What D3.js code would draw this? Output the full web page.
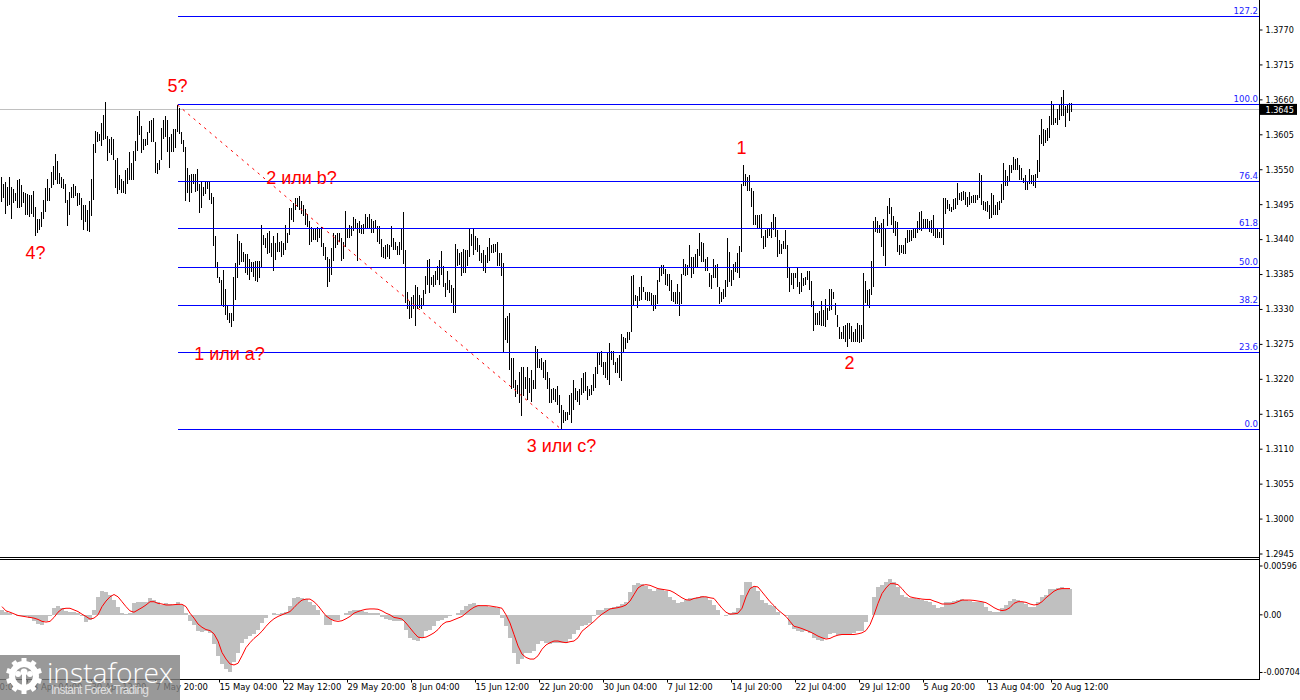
<!DOCTYPE html>
<html>
<head>
<meta charset="utf-8">
<script src="https://cdn.jsdelivr.net/npm/d3@7"></script>
<style>
  html, body { margin: 0; padding: 0; background: #fff; overflow: hidden; }
  text { font-family: "DejaVu Sans Condensed", "DejaVu Sans", sans-serif; }
</style>
</head>
<body>
<div class="container"></div>
<script>
// bar highs and lows, price * 10000, one value per H4 bar
const barHigh = [
13538,13528,13530,13523,13538,13523,13519,13514,13534,13536,13526,13515,13513,13512,13510,13510,13517,13492,13472,13473,13484,13503,13521,13536,13522,13547,13556,13575,13564,13545,13539,13536,13528,13503,13515,13523,13527,13524,13514,13514,13506,13494,13494,13486,13500,13536,13591,13611,13610,13607,13623,13636,13656,13603,13599,13602,13598,13566,13568,13542,13535,13533,13550,13552,13578,13560,13579,13596,13634,13643,13619,13598,13599,13610,13626,13629,13631,13594,13560,13566,13615,13628,13634,13628,13602,13607,13614,13614,13652,13647,13610,13597,13586,13552,13542,13543,13543,13544,13551,13528,13530,13523,13531,13531,13531,13513,13507,13446,13404,13381,13376,13392,13362,13337,13324,13324,13381,13403,13449,13438,13434,13421,13417,13418,13410,13405,13404,13407,13407,13407,13463,13447,13442,13450,13454,13434,13446,13434,13450,13437,13438,13435,13463,13450,13489,13489,13497,13505,13506,13509,13501,13494,13488,13481,13470,13460,13458,13458,13460,13458,13460,13434,13429,13413,13410,
13427,13450,13448,13450,13451,13442,13437,13485,13456,13463,13461,13476,13472,13466,13470,13463,13465,13480,13476,13481,13472,13469,13471,13461,13461,13441,13429,13432,13433,13432,13462,13442,13437,13430,13437,13458,13484,13423,13357,13343,13349,13352,13369,13366,13352,13348,13361,13382,13408,13409,13381,13385,13390,13398,13408,13422,13398,13372,13390,13377,13369,13364,13433,13425,13419,13420,13425,13424,13423,13458,13449,13458,13445,13442,13432,13419,13424,13416,13428,13442,13432,13433,13433,13437,13419,13419,13403,13317,13319,13324,13253,13253,13219,13211,13232,13240,13239,13224,13239,13222,13234,13219,13273,13267,13252,13253,13248,13250,13232,13222,13204,13206,13204,13210,13196,13180,13172,13168,13169,13196,13198,13219,13206,13201,13204,13222,13230,13232,13209,13205,13211,13229,13240,13261,13262,13264,13248,13248,13262,13277,13264,13264,13247,13253,13259,13292,13286,13285,13294,13295,13383,13385,13353,13351,13366,13382,13365,13358,13358,13357,13356,13352,13352,13377,13397,
13400,13400,13393,13386,13386,13376,13358,13358,13370,13358,13386,13409,13402,13400,13431,13413,13413,13418,13425,13450,13437,13434,13410,13412,13387,13384,13410,13400,13401,13366,13358,13362,13376,13442,13421,13392,13402,13404,13419,13430,13527,13557,13543,13538,13542,13521,13517,13479,13479,13479,13480,13446,13455,13458,13458,13467,13480,13476,13455,13439,13433,13438,13455,13431,13397,13388,13387,13388,13396,13374,13388,13379,13381,13391,13391,13375,13344,13324,13325,13328,13344,13329,13347,13332,13362,13362,13358,13340,13321,13303,13295,13304,13305,13308,13309,13304,13295,13300,13308,13305,13305,13387,13375,13360,13362,13407,13470,13475,13470,13463,13466,13473,13459,13493,13505,13491,13477,13470,13468,13431,13431,13431,13442,13455,13455,13455,13456,13458,13470,13484,13485,13472,13472,13472,13470,13471,13479,13458,13458,13452,13458,13506,13506,13502,13496,
13491,13504,13506,13529,13514,13515,13516,13515,13507,13515,13509,13511,13511,13511,13545,13541,13500,13499,13500,13494,13514,13511,13495,13499,13500,13527,13561,13550,13540,13557,13557,13570,13567,13569,13558,13553,13537,13542,13532,13551,13542,13542,13544,13566,13604,13630,13614,13613,13616,13634,13658,13653,13632,13646,13653,13665,13675,13650,13654,13655,13655
];
const barLow = [
13499,13505,13480,13493,13494,13472,13497,13501,13489,13490,13492,13497,13478,13479,13476,13480,13476,13446,13451,13455,13460,13473,13484,13500,13501,13522,13526,13534,13527,13528,13521,13519,13497,13462,13479,13506,13506,13509,13493,13494,13471,13455,13468,13453,13452,13477,13502,13576,13594,13596,13587,13597,13599,13564,13576,13573,13565,13522,13512,13518,13514,13513,13512,13527,13534,13534,13534,13563,13580,13605,13577,13581,13587,13589,13608,13594,13594,13545,13544,13550,13565,13599,13602,13578,13553,13578,13578,13584,13610,13607,13591,13578,13501,13513,13499,13513,13528,13515,13517,13482,13489,13509,13512,13519,13502,13496,13430,13395,13379,13371,13335,13334,13321,13313,13309,13302,13312,13345,13379,13400,13405,13405,13387,13384,13376,13389,13381,13375,13374,13380,13397,13431,13426,13418,13419,13413,13391,13408,13421,13421,13413,13416,13423,13434,13447,13471,13468,13486,13492,13486,13480,13477,13463,13460,13431,13437,13439,13439,13437,13442,13429,13414,13408,13366,13374,
13385,13406,13427,13432,13436,13407,13409,13428,13442,13442,13446,13453,13456,13406,13450,13449,13449,13458,13457,13458,13450,13450,13456,13436,13433,13412,13411,13409,13412,13409,13428,13424,13424,13416,13415,13424,13401,13340,13330,13315,13316,13330,13304,13330,13332,13330,13335,13355,13369,13356,13369,13365,13369,13377,13369,13385,13366,13349,13361,13356,13340,13324,13324,13398,13400,13382,13387,13387,13398,13412,13430,13416,13424,13421,13406,13403,13390,13388,13403,13406,13419,13419,13421,13398,13398,13383,13261,13282,13277,13235,13204,13206,13192,13197,13183,13162,13193,13204,13188,13199,13185,13204,13204,13238,13238,13235,13222,13219,13204,13183,13183,13188,13185,13180,13167,13141,13151,13154,13156,13164,13151,13172,13188,13185,13180,13196,13198,13201,13188,13193,13196,13201,13206,13229,13243,13240,13227,13222,13219,13211,13251,13243,13230,13230,13222,13218,13261,13267,13277,13282,13295,13337,13344,13332,13344,13345,13358,13345,13344,13343,13337,13327,13330,13339,13374,
13383,13386,13368,13367,13359,13344,13341,13338,13338,13320,13338,13384,13383,13384,13396,13379,13386,13396,13396,13414,13405,13405,13391,13391,13366,13363,13380,13379,13365,13338,13341,13347,13350,13365,13374,13367,13376,13389,13388,13379,13421,13524,13524,13517,13517,13492,13463,13463,13458,13456,13443,13425,13428,13443,13446,13443,13455,13444,13412,13418,13418,13425,13425,13380,13358,13368,13363,13379,13366,13354,13358,13367,13368,13376,13360,13334,13296,13305,13305,13305,13304,13304,13303,13314,13328,13329,13347,13321,13303,13283,13284,13283,13279,13271,13284,13279,13279,13279,13278,13277,13279,13284,13340,13335,13332,13353,13366,13452,13451,13450,13429,13414,13398,13461,13481,13463,13450,13446,13421,13416,13419,13418,13417,13435,13437,13438,13442,13443,13450,13455,13454,13456,13456,13458,13452,13450,13446,13443,13442,13442,13442,13431,13481,13488,13485,
13483,13487,13488,13495,13502,13500,13502,13495,13491,13494,13497,13498,13498,13503,13506,13494,13487,13485,13483,13473,13474,13479,13478,13479,13486,13497,13503,13524,13525,13532,13545,13549,13550,13550,13534,13534,13529,13518,13518,13527,13527,13525,13521,13537,13546,13590,13588,13592,13595,13600,13621,13620,13624,13621,13629,13634,13635,13617,13640,13626,13641
];

// MACD main and signal, * 100000, one value per two bars
const macdHist = [
60,32,20,0,-12,-16,-20,-40,-72,-112,-128,-72,-20,80,112,88,48,40,32,20,-20,-88,-60,60,220,288,280,240,180,100,20,8,20,140,152,152,160,200,180,152,120,140,132,120,152,120,20,-80,-120,-200,-208,-200,-220,-360,-500,-600,-660,-700,-580,-460,-340,-300,-260,-240,-180,-100,-40,0,20,12,20,40,112,200,220,200,192,160,120,60,0,-120,-120,-60,-60,0,20,48,60,60,48,32,20,20,20,-32,-48,-60,-80,-72,-72,-180,-288,-312,-320,-280,-192,
-180,-140,-80,-60,-40,-20,0,20,60,112,128,140,120,112,108,100,92,80,-40,-140,-280,-460,-600,-540,-460,-460,-440,-360,-320,-340,-352,-340,-340,-340,-340,-300,-240,-180,-140,-120,-100,-20,60,60,80,88,100,112,132,152,280,360,388,380,352,320,288,320,320,288,220,180,140,152,180,200,208,220,232,220,180,120,60,0,-12,20,40,80,240,400,400,340,288,180,140,120,112,40,0,-20,-120,-168,-200,-208,-192,-220,-280,-312,-320,-280,-232,-220,-248,-248,-240,-240,-220,-200,
-200,-88,0,220,340,360,400,432,400,340,240,220,208,200,192,180,168,152,120,88,100,152,160,168,180,192,180,168,160,152,152,100,48,32,40,80,120,168,188,180,152,128,100,100,160,220,240,312,320,332,340,320,312
];
const macdSignal = [
100,48,32,12,-8,-16,-24,-32,-40,-56,-80,-88,-80,-32,32,72,80,80,60,40,8,-20,-52,-40,0,100,168,220,248,220,160,100,48,32,60,88,120,160,160,140,132,120,120,124,128,128,100,20,-40,-112,-152,-180,-192,-232,-320,-460,-540,-600,-612,-592,-500,-400,-340,-288,-248,-200,-140,-88,-48,-20,0,20,40,88,140,180,192,192,160,112,48,-12,-48,-72,-80,-72,-48,-20,20,40,56,68,72,72,68,48,20,0,-32,-40,-52,-100,-160,-220,-272,-280,-272,
-248,-220,-180,-120,-88,-80,-60,-40,-20,20,60,92,112,112,112,108,100,92,80,0,-100,-240,-380,-480,-520,-540,-540,-500,-420,-368,-340,-320,-320,-332,-340,-328,-320,-280,-200,-160,-120,-80,-32,8,40,72,80,88,100,120,168,248,328,360,368,360,340,320,312,304,296,272,240,208,184,180,200,208,220,220,208,200,140,80,32,8,12,20,80,220,320,348,340,280,220,160,112,60,20,-20,-80,-140,-152,-168,-188,-208,-232,-260,-280,-296,-288,-264,-248,-240,-240,-240,-240,-232,
-220,-192,-120,0,140,260,328,380,380,368,320,260,220,208,200,192,188,188,168,152,132,132,132,140,160,180,180,180,176,168,160,148,120,88,64,52,60,88,140,160,160,152,132,120,128,160,208,248,288,312,320,320,320
];

const priceTicks = [13770,13715,13660,13605,13550,13495,13440,13385,13330,13275,13220,13165,13110,13055,13000,12945];
const macdTicks = [596,0,-704];
const timeBars = [-19,13,45,77,109,141,173,205,237,269,301,333,365,397,429,461,493,525];
const timeLabels = ['15 Apr 20:00','23 Apr 04:00','30 Apr 12:00','7 May 20:00','15 May 04:00','22 May 12:00','29 May 20:00','8 Jun 04:00','15 Jun 12:00','22 Jun 20:00','30 Jun 04:00','7 Jul 12:00','14 Jul 20:00','22 Jul 04:00','29 Jul 12:00','5 Aug 20:00','13 Aug 04:00','20 Aug 12:00'];

const fibNames = ['127.2','100.0','76.4','61.8','50.0','38.2','23.6','0.0'];
const fibPrices = [13791,13652,13531,13457,13396,13336,13262,13141];
const fibStartBar = 88;
const fibEndBar = 280;
const lastPrice = 13645;

const waveNames = ['5?','4?','2 или b?','1 или а?','3 или с?','1','2'];
const waveBars = [88,17,150,114,280,370,424];
const wavePrices = [13673,13409,13527,13251,13105,13574,13237];

const width = 1300;
const height = 700;
const chartRight = 1259;
const panelTop = 559.5;
const panelBottom = 679.5;

const svg = d3
  .select('.container')
  .append('svg')
  .attr('width', width)
  .attr('height', height)
  .style('display', 'block');

const xBar = d3.scaleLinear().domain([0, 535]).range([1.5, 1071.5]);
const yPrice = d3.scaleLinear().domain([12945, 13770]).range([554, 30]);
const yMacd = d3.scaleLinear().domain([-704, 596]).range([672.5, 566]);
const xHist = d3
  .scaleBand()
  .domain(d3.range(macdHist.length))
  .range([0, macdHist.length * 4]);

// current price line goes under the bars
svg
  .append('line')
  .attr('x1', 0)
  .attr('x2', chartRight)
  .attr('y1', Math.floor(yPrice(lastPrice)) + 0.5)
  .attr('y2', Math.floor(yPrice(lastPrice)) + 0.5)
  .attr('stroke', '#c0c0c0');

svg
  .append('g')
  .attr('id', 'bars')
  .selectAll('line')
  .data(barHigh)
  .enter()
  .append('line')
  .attr('x1', (d, i) => xBar(i))
  .attr('x2', (d, i) => xBar(i))
  .attr('y1', (d) => yPrice(d))
  .attr('y2', (d, i) => yPrice(barLow[i]))
  .attr('stroke', '#000')
  .attr('stroke-width', 1)
  .attr('shape-rendering', 'crispEdges');

// fibo grid
svg
  .append('g')
  .attr('id', 'fibo')
  .selectAll('line')
  .data(fibPrices)
  .enter()
  .append('line')
  .attr('x1', xBar(fibStartBar))
  .attr('x2', chartRight)
  .attr('y1', (d) => Math.floor(yPrice(d)) + 0.5)
  .attr('y2', (d) => Math.floor(yPrice(d)) + 0.5)
  .attr('stroke', '#0000ff')
  .attr('stroke-width', 1)
  .attr('shape-rendering', 'crispEdges');

svg
  .append('line')
  .attr('x1', xBar(fibStartBar))
  .attr('y1', yPrice(fibPrices[1]))
  .attr('x2', xBar(fibEndBar))
  .attr('y2', yPrice(fibPrices[7]))
  .attr('stroke', '#ff0000')
  .attr('stroke-dasharray', '2.5,4.5');

svg
  .append('g')
  .selectAll('text')
  .data(fibNames)
  .enter()
  .append('text')
  .attr('x', chartRight - 1)
  .attr('y', (d, i) => yPrice(fibPrices[i]) - 2.5)
  .attr('text-anchor', 'end')
  .attr('fill', '#2020ff')
  .style('font-size', '9.5px')
  .text((d) => d);

svg
  .append('g')
  .attr('id', 'waves')
  .selectAll('text')
  .data(waveNames)
  .enter()
  .append('text')
  .attr('x', (d, i) => xBar(waveBars[i]))
  .attr('y', (d, i) => yPrice(wavePrices[i]))
  .attr('text-anchor', 'middle')
  .attr('fill', '#ff0000')
  .style('font-family', '"Liberation Sans", sans-serif')
  .style('font-size', '18px')
  .text((d) => d);

// macd panel
svg
  .append('g')
  .attr('id', 'hist')
  .selectAll('rect')
  .data(macdHist)
  .enter()
  .append('rect')
  .attr('x', (d, i) => xHist(i))
  .attr('y', (d) => yMacd(Math.max(d, 0)))
  .attr('width', xHist.bandwidth())
  .attr('height', (d) => Math.abs(yMacd(d) - yMacd(0)))
  .attr('fill', '#c0c0c0')
  .attr('shape-rendering', 'crispEdges');

const signalLine = d3
  .line()
  .x((d, i) => xHist(i) + xHist.bandwidth() / 2)
  .y((d) => yMacd(d));

svg
  .append('path')
  .datum(macdSignal)
  .attr('d', signalLine)
  .attr('fill', 'none')
  .attr('stroke', '#ff0000')
  .attr('stroke-width', 1);

// axes
const yAxis = d3
  .axisRight(yPrice)
  .tickValues(priceTicks)
  .tickFormat((d) => (d / 10000).toFixed(4))
  .tickSize(3)
  .offset(0);
const gy = svg
  .append('g')
  .attr('transform', `translate(${chartRight + 0.5},0)`)
  .call(yAxis);
gy.select('.domain').remove();
gy.selectAll('text').attr('x', 6).style('font-size', '9px').style('font-family', '"DejaVu Sans Condensed", "DejaVu Sans", sans-serif');

const yAxisMacd = d3
  .axisRight(yMacd)
  .tickValues(macdTicks)
  .tickFormat((d) => (d === 0 ? '0.00' : (d / 100000).toFixed(5)))
  .tickSize(3)
  .offset(0);
const gm = svg
  .append('g')
  .attr('transform', `translate(${chartRight + 0.5},0)`)
  .call(yAxisMacd);
gm.select('.domain').remove();
gm.selectAll('text').attr('x', 4).style('font-size', '9px').style('font-family', '"DejaVu Sans Condensed", "DejaVu Sans", sans-serif');

const xAxis = d3
  .axisBottom(xBar)
  .tickValues(timeBars)
  .tickFormat((d, i) => timeLabels[i])
  .tickSize(3)
  .offset(0);
const gx = svg
  .append('g')
  .attr('transform', `translate(0,${panelBottom})`)
  .call(xAxis);
gx.select('.domain').remove();
gx.selectAll('text')
  .attr('text-anchor', 'start')
  .attr('y', 4)
  .style('font-size', '9.4px')
  .style('font-family', '"DejaVu Sans Condensed", "DejaVu Sans", sans-serif');

// frame
const frame = svg.append('g').attr('stroke', '#000').attr('shape-rendering', 'crispEdges');
frame.append('line').attr('x1', chartRight + 0.5).attr('x2', chartRight + 0.5).attr('y1', 0).attr('y2', panelBottom);
frame.append('line').attr('x1', 0).attr('x2', chartRight).attr('y1', 557.5).attr('y2', 557.5);
frame.append('line').attr('x1', 0).attr('x2', chartRight).attr('y1', panelTop).attr('y2', panelTop);
frame.append('line').attr('x1', 0).attr('x2', chartRight).attr('y1', panelBottom).attr('y2', panelBottom);

// last price box
const lastBox = svg.append('g').attr('transform', `translate(${chartRight + 1},${yPrice(lastPrice)})`);
lastBox.append('rect').attr('x', 0).attr('y', -5.5).attr('width', 37).attr('height', 11).attr('fill', '#000');
lastBox
  .append('text')
  .attr('x', 5.5)
  .attr('y', 3.2)
  .attr('fill', '#fff')
  .style('font-size', '9px')
  .text((lastPrice / 10000).toFixed(4));

// logo
const logo = svg.append('g');
logo.append('rect').attr('x', 0).attr('y', 655).attr('width', 180).attr('height', 45).attr('fill', '#808080').attr('opacity', 0.8);
const gear = logo.append('g').attr('transform', 'translate(24,676)').attr('fill', '#fff');
gear.append('circle').attr('r', 12).attr('fill', 'none').attr('stroke', '#fff').attr('stroke-width', 6);
gear
  .selectAll('rect')
  .data(d3.range(10))
  .enter()
  .append('rect')
  .attr('x', -2.5)
  .attr('y', -18)
  .attr('width', 5)
  .attr('height', 6)
  .attr('transform', (d) => `rotate(${d * 36})`);
gear.append('circle').attr('cy', -4).attr('r', 3.5);
gear.append('circle').attr('cx', -6).attr('cy', -2).attr('r', 3);
gear.append('circle').attr('cx', 6).attr('cy', -2).attr('r', 3);
gear.append('rect').attr('x', -2).attr('y', -2).attr('width', 4).attr('height', 12);
logo
  .append('text')
  .attr('x', 47)
  .attr('y', 683)
  .attr('fill', '#fff')
  .style('font-family', '"Open Sans", sans-serif')
  .style('font-weight', 300)
  .style('font-size', '28px')
  .attr('textLength', 126)
  .attr('lengthAdjust', 'spacingAndGlyphs')
  .text('instaforex');
logo
  .append('text')
  .attr('x', 51)
  .attr('y', 694)
  .attr('fill', '#e0e0e0')
  .style('font-family', '"Liberation Sans", sans-serif')
  .style('font-size', '12px')
  .attr('textLength', 98)
  .text('Instant Forex Trading');
</script>
</body>
</html>
